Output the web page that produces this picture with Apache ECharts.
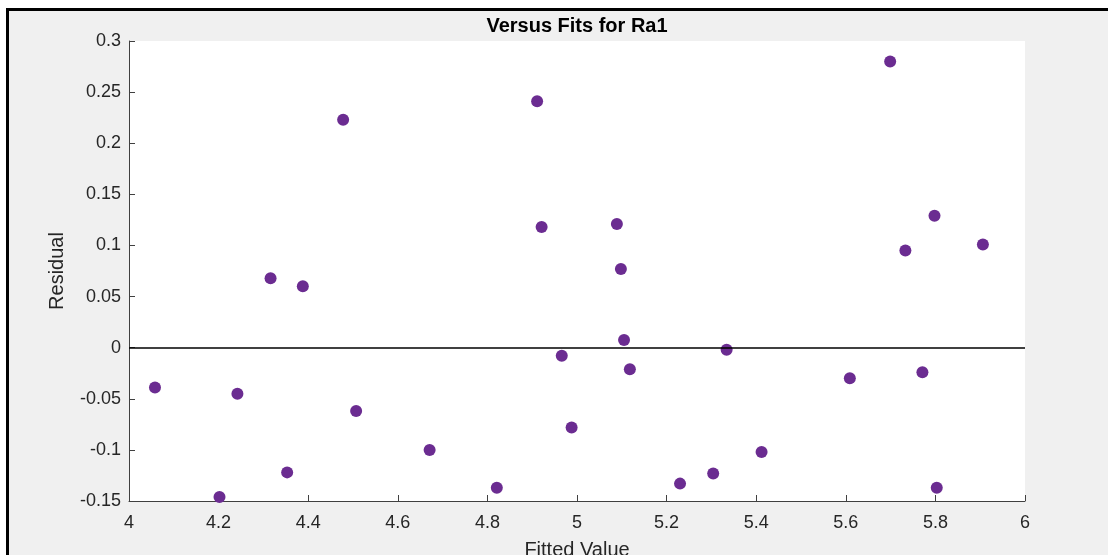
<!DOCTYPE html>
<html>
<head>
<meta charset="utf-8">
<title>Versus Fits for Ra1</title>
<script src="https://cdn.jsdelivr.net/npm/echarts@6/dist/echarts.min.js"></script>
<style>
  html, body { margin: 0; padding: 0; background: #fff; }
  #frame {
    position: absolute; left: 6px; top: 8px; width: 1099px; height: 544px;
    border-left: 3px solid #000; border-top: 3px solid #000;
    background: #f0f0f0;
  }
  #chart { position: absolute; left: 0; top: 0; width: 1108px; height: 555px; }
</style>
</head>
<body>
<div id="frame"></div>
<div id="chart"></div>
<script>
// fitted values (x) and residuals (y)
const fitted = [
  4.058, 4.202, 4.242, 4.316, 4.353, 4.388, 4.478, 4.507, 4.671, 4.821,
  4.911, 4.921, 4.966, 4.988, 5.089, 5.098, 5.105, 5.118, 5.230, 5.304,
  5.334, 5.412, 5.609, 5.699, 5.733, 5.771, 5.798, 5.803, 5.906
]
const residual = [
  -0.039, -0.146, -0.045, 0.068, -0.122, 0.060, 0.223, -0.062, -0.100, -0.137,
  0.241, 0.118, -0.008, -0.078, 0.121, 0.077, 0.0075, -0.021, -0.133, -0.123,
  -0.002, -0.102, -0.030, 0.280, 0.095, -0.024, 0.129, -0.137, 0.101
]
const xTicks = { min: 4, max: 6, step: 0.2 }
const yTicks = { min: -0.15, max: 0.3, step: 0.05 }

const font = '"Liberation Sans", Arial, Helvetica, sans-serif'
const axisColor = '#404040'
const textColor = '#262626'

const fmt = (v) => String(parseFloat(Number(v).toFixed(2)))

const chart = echarts.init(document.getElementById('chart'))
chart.setOption({
  backgroundColor: 'transparent',
  animation: false,
  textStyle: { fontFamily: font },
  title: {
    text: 'Versus Fits for Ra1',
    left: 577,
    textAlign: 'center',
    top: 16,
    padding: 0,
    textStyle: { fontSize: 20, fontWeight: 'bold', color: '#000', fontFamily: font }
  },
  grid: {
    left: 129, top: 41, width: 896, height: 460,
    outerBoundsMode: 'none',
    containLabel: false,
    show: true, backgroundColor: '#fff', borderWidth: 0
  },
  xAxis: {
    type: 'value',
    min: xTicks.min, max: xTicks.max, interval: xTicks.step,
    name: 'Fitted Value',
    nameLocation: 'middle',
    nameGap: 39,
    nameTextStyle: { fontSize: 20, color: textColor, fontFamily: font },
    axisLine: { show: true, onZero: false, lineStyle: { color: axisColor, width: 1 } },
    axisTick: { show: true, inside: true, length: 6, lineStyle: { color: axisColor } },
    axisLabel: { fontSize: 18, color: textColor, margin: 13, formatter: fmt, fontFamily: font },
    splitLine: { show: false }
  },
  yAxis: {
    type: 'value',
    min: yTicks.min, max: yTicks.max, interval: yTicks.step,
    name: 'Residual',
    nameLocation: 'middle',
    nameRotate: 90,
    nameGap: 62,
    nameTextStyle: { fontSize: 20, color: textColor, fontFamily: font },
    axisLine: { show: true, onZero: false, lineStyle: { color: axisColor, width: 1 } },
    axisTick: { show: true, inside: true, length: 6, lineStyle: { color: axisColor } },
    axisLabel: { fontSize: 18, color: textColor, margin: 8, formatter: fmt, fontFamily: font },
    splitLine: { show: false }
  },
  series: [{
    type: 'scatter',
    data: fitted.map((x, i) => [x, residual[i]]),
    symbol: 'circle',
    symbolSize: 12,
    itemStyle: { color: '#6b2c91', opacity: 1 },
    markLine: {
      silent: true,
      symbol: 'none',
      label: { show: false },
      lineStyle: { color: '#000', width: 1.5, type: 'solid' },
      data: [{ yAxis: 0 }]
    }
  }]
})
</script>
</body>
</html>
